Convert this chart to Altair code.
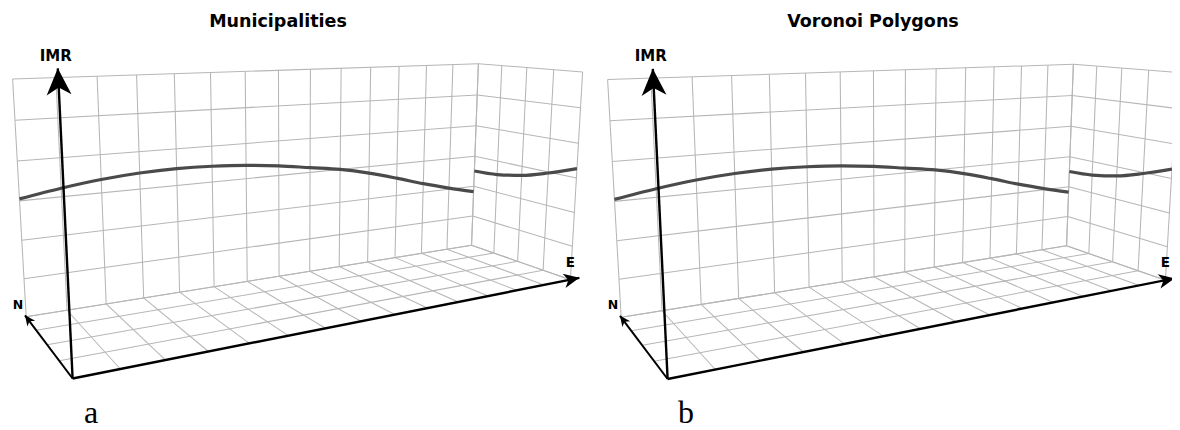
import numpy as np
import pandas as pd
import altair as alt

# ---------------- data ----------------
panel_titles = ["Municipalities", "Voronoi Polygons"]
panel_captions = ["a", "b"]

grid_e = list(range(15))          # East grid lines 0..14
grid_n = list(range(5))           # North grid lines 0..4
grid_z = list(range(7))           # IMR grid levels 0..6

# trend projected on the back (E-IMR) wall, one value per East grid line
trend_e = list(range(15))
imr_ew_a = [3.05, 3.22, 3.35, 3.43, 3.46, 3.44, 3.38, 3.28, 3.14, 3.00, 2.80, 2.55, 2.28, 2.04, 1.82]
imr_ew_b = [3.05, 3.22, 3.35, 3.43, 3.46, 3.44, 3.38, 3.28, 3.14, 3.00, 2.80, 2.55, 2.28, 2.04, 1.82]
# trend projected on the side (N-IMR) wall, one value per North grid line
trend_n = [0, 1, 2, 3, 4]
imr_ns_a = [3.27, 2.97, 2.72, 2.57, 2.51]
imr_ns_b = [3.27, 2.97, 2.72, 2.57, 2.51]

axis_names = ["IMR", "N", "E"]

# ---------------- layout / camera ----------------
E_MAX, N_MAX, Z_MAX = 14, 4, 6
AXIS_LEN = {"E": 14.35, "N": 4.12, "IMR": 6.5}
AXIS_W = {"E": 2.4, "N": 2.0, "IMR": 2.4}
HEAD_SIZE = {"E": 380, "N": 170, "IMR": 1100}
# camera calibration: box corners (E, N, IMR) -> page pixel of panel a
CAL_WORLD = [(0, 0, 0), (0, 4, 0), (14, 4, 0), (14, 0, 0), (0, 4, 6), (14, 4, 6), (14, 0, 6)]
CAL_PIX = [(72.7, 378.3), (26, 317), (472, 245), (570, 280), (12.7, 79), (478, 64), (583, 71.7)]
PANEL_OFFSET = [(0.0, 0.0), (595.0, 0.5)]
TITLE_X, TITLE_BASE = 278, 26.5
CAPTION_X, CAPTION_BASE = 91, 423


def fit_camera(world, pix):
    T = np.array([[1 / 200, 0, -1.5], [0, 1 / 200, -1.1], [0, 0, 1]])
    S = np.array([[1 / 7, 0, 0, -1], [0, 1 / 2, 0, -1], [0, 0, 1 / 3, -1], [0, 0, 0, 1]])
    A = []
    for w, p in zip(world, pix):
        X, Y, Z, _ = S @ np.array([*w, 1.0])
        u, v, _ = T @ np.array([*p, 1.0])
        A.append([X, Y, Z, 1, 0, 0, 0, 0, -u * X, -u * Y, -u * Z, -u])
        A.append([0, 0, 0, 0, X, Y, Z, 1, -v * X, -v * Y, -v * Z, -v])
    _, _, vt = np.linalg.svd(np.array(A))
    Pn = vt[-1].reshape(3, 4)
    return np.linalg.inv(T) @ Pn @ S


P = fit_camera(CAL_WORLD, CAL_PIX)


def project(pts, off):
    pts = np.asarray(pts, float)
    h = np.c_[pts, np.ones(len(pts))] @ P.T
    return h[:, 0] / h[:, 2] + off[0], h[:, 1] / h[:, 2] + off[1]


# grid segments of the open box (back wall, side wall, floor)
segs = []
for e in grid_e:
    segs.append(((e, N_MAX, 0), (e, N_MAX, Z_MAX)))
    segs.append(((e, 0, 0), (e, N_MAX, 0)))
for z in grid_z:
    segs.append(((0, N_MAX, z), (E_MAX, N_MAX, z)))
    segs.append(((E_MAX, 0, z), (E_MAX, N_MAX, z)))
for n in grid_n:
    segs.append(((E_MAX, n, 0), (E_MAX, n, Z_MAX)))
    segs.append(((0, n, 0), (E_MAX, n, 0)))

grid_rows, curve_rows, axis_rows, head_rows, text_rows = [], [], [], [], []
ew_sets = [imr_ew_a, imr_ew_b]
ns_sets = [imr_ns_a, imr_ns_b]
for k, off in enumerate(PANEL_OFFSET):
    x0, y0 = project([s[0] for s in segs], off)
    x1, y1 = project([s[1] for s in segs], off)
    for i in range(len(segs)):
        grid_rows.append({"panel": k, "x": x0[i], "y": y0[i], "x2": x1[i], "y2": y1[i]})
    cx, cy = project([(e, N_MAX, z) for e, z in zip(trend_e, ew_sets[k])], off)
    for i in range(len(cx)):
        curve_rows.append({"curve": f"ew{k}", "x": cx[i], "y": cy[i]})
    cx, cy = project([(E_MAX, n, z) for n, z in zip(trend_n, ns_sets[k])], off)
    for i in range(len(cx)):
        curve_rows.append({"curve": f"ns{k}", "x": cx[i], "y": cy[i]})
    for name in axis_names:
        L = AXIS_LEN[name]
        unit = {"E": (1, 0, 0), "N": (0, 1, 0), "IMR": (0, 0, 1)}[name]
        tip = tuple(L * u for u in unit)
        pre = tuple((L - 0.3) * u for u in unit)
        ax, ay = project([(0, 0, 0), pre, tip], off)
        axis_rows.append({"axis": name, "x": ax[0], "y": ay[0], "x2": ax[2], "y2": ay[2], "w": AXIS_W[name]})
        ang = (np.degrees(np.arctan2(ax[2] - ax[1], -(ay[2] - ay[1]))) + 360) % 360
        head_rows.append({"axis": name, "x": ax[2], "y": ay[2], "ang": ang, "size": HEAD_SIZE[name]})
    text_rows.append({"kind": "title", "text": panel_titles[k], "x": TITLE_X + off[0], "y": TITLE_BASE})
    text_rows.append({"kind": "caption", "text": panel_captions[k], "x": CAPTION_X + off[0], "y": CAPTION_BASE})

grid_df = pd.DataFrame(grid_rows)
curve_df = pd.DataFrame(curve_rows)
axis_df = pd.DataFrame(axis_rows)
head_df = pd.DataFrame(head_rows)
text_df = pd.DataFrame(text_rows)

xs = alt.Scale(domain=[8, 1172], nice=False, zero=False)
ys = alt.Scale(domain=[8, 430], nice=False, zero=False, reverse=True)


def X(f):
    return alt.X(f"{f}:Q", scale=xs, axis=None)


def Y(f):
    return alt.Y(f"{f}:Q", scale=ys, axis=None)


ARROW = "M0,0 L0.75,1.6 L0,1.15 L-0.75,1.6 Z"

grid = alt.Chart(grid_df).mark_rule(color="#b6b6b6", strokeWidth=1.05).encode(
    x=X("x"), y=Y("y"), x2="x2:Q", y2="y2:Q")
curves = alt.Chart(curve_df).mark_line(color="#4a4a4a", strokeWidth=3.2, interpolate="monotone").encode(
    x=X("x"), y=Y("y"), detail="curve:N", order="x:Q")
axes = alt.Chart(axis_df).mark_rule(color="#000000").encode(
    x=X("x"), y=Y("y"), x2="x2:Q", y2="y2:Q", strokeWidth=alt.StrokeWidth("w:Q", scale=None))
heads = alt.Chart(head_df).mark_point(shape=ARROW, filled=True, color="#000000", opacity=1, strokeWidth=0).encode(
    x=X("x"), y=Y("y"), size=alt.Size("size:Q", scale=None), angle=alt.Angle("ang:Q", scale=None))

label_style = {"IMR": (15, -2, -7.7), "N": (12.5, -7, -6.6), "E": (13.5, -9, -11)}
labels = []
for name in axis_names:
    fs, dx, dy = label_style[name]
    labels.append(
        alt.Chart(head_df).transform_filter(alt.datum.axis == name).mark_text(
            font="DejaVu Sans", fontWeight="bold", fontSize=fs, align="center", baseline="alphabetic",
            dx=dx, dy=dy, color="#000000").encode(x=X("x"), y=Y("y"), text="axis:N"))

titles = alt.Chart(text_df).transform_filter(alt.datum.kind == "title").mark_text(
    font="DejaVu Sans", fontWeight="bold", fontSize=17.5, align="center", baseline="alphabetic",
    color="#000000").encode(x=X("x"), y=Y("y"), text="text:N")
captions = alt.Chart(text_df).transform_filter(alt.datum.kind == "caption").mark_text(
    font="Liberation Serif", fontSize=32, align="center", baseline="alphabetic",
    color="#000000").encode(x=X("x"), y=Y("y"), text="text:N")

chart = alt.layer(grid, curves, axes, heads, *labels, titles, captions).properties(
    width=1164, height=422, padding=0, autosize=alt.AutoSizeParams(type="none")
).configure_view(stroke=None)

chart.save("out.html", embed_options={"renderer": "svg", "actions": False})
